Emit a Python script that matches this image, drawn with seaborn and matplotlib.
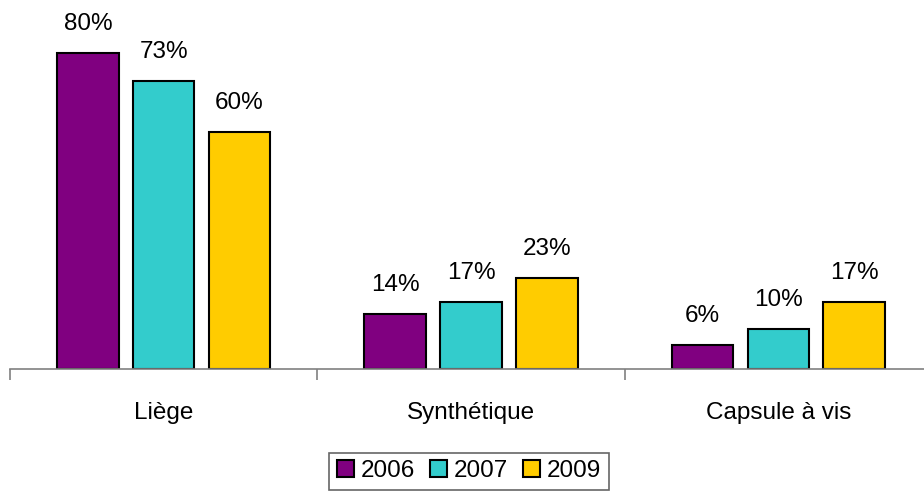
import matplotlib
matplotlib.use("Agg")
import matplotlib.pyplot as plt
import seaborn as sns
import pandas as pd

# Bouchons de vin : part par type de fermeture
categories = ["Liège", "Synthétique", "Capsule à vis"]
years = ["2006", "2007", "2009"]
values_2006 = [80, 14, 6]
values_2007 = [73, 17, 10]
values_2009 = [60, 23, 17]
colors = ["#800080", "#33CCCC", "#FFCC00"]

rows = []
for year, vals in zip(years, [values_2006, values_2007, values_2009]):
    for cat, v in zip(categories, vals):
        rows.append({"categorie": cat, "annee": year, "valeur": v})
df = pd.DataFrame(rows)

sns.set_style("white")
plt.rcParams['font.family'] = ['Liberation Sans', 'DejaVu Sans']
plt.rcParams['text.color'] = 'black'
plt.rcParams['xtick.color'] = 'black'

fig = plt.figure(figsize=(9.24, 4.93), dpi=100)
ax = fig.add_axes([10 / 924, 124 / 493, 922 / 924, 369 / 493])

sns.barplot(data=df, x="categorie", y="valeur", hue="annee", order=categories,
            hue_order=years, palette=colors, width=0.74, gap=0.19,
            edgecolor="black", linewidth=1.5, saturation=1, ax=ax, legend=True)

# étiquettes de valeur au-dessus des barres
for cont in ax.containers:
    ax.bar_label(cont, labels=[f"{v:.0f}%" for v in cont.datavalues],
                 padding=13, fontsize=17.5, color="black")

ax.set_xlim(-0.5, 2.5)
ax.set_ylim(0, 93.4)
ax.set_xlabel("")
ax.set_ylabel("")
ax.set_yticks([])
for s in ["left", "right", "top"]:
    ax.spines[s].set_visible(False)
ax.spines["bottom"].set_color("#808080")
ax.spines["bottom"].set_linewidth(1.2)

# graduations entre les catégories
ax.set_xticks([-0.5, 0.5, 1.5, 2.5], minor=True)
ax.tick_params(axis="x", which="minor", length=8, width=1.2, color="#808080",
               direction="out", bottom=True)
ax.tick_params(axis="x", which="major", length=0, pad=24, labelsize=17.5,
               labelcolor="black")

leg = ax.legend(loc="upper center", bbox_to_anchor=(469 / 924, 40 / 493),
                bbox_transform=fig.transFigure, ncol=3, frameon=True,
                fancybox=False, fontsize=17.5, handlelength=0.7,
                handleheight=0.7, handletextpad=0.3, columnspacing=0.6,
                borderpad=0.3, borderaxespad=0)
leg.get_frame().set_edgecolor("#404040")
leg.get_frame().set_linewidth(1.2)
for h in leg.legend_handles:
    h.set_edgecolor("black")
    h.set_linewidth(1.5)
for t in leg.get_texts():
    t.set_color("black")

fig.savefig("out.png", dpi=100)
